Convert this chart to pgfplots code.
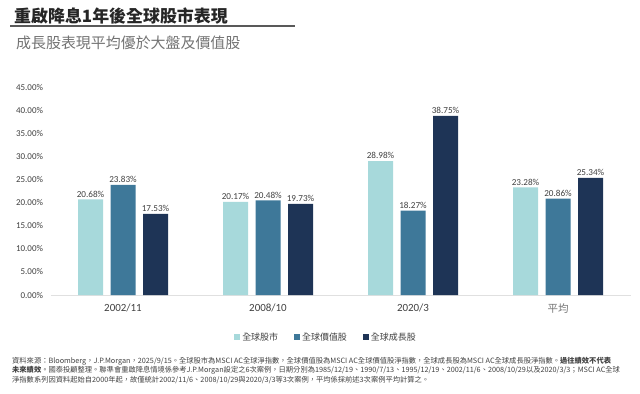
\documentclass[border=0pt]{standalone}
\usepackage{fontspec}
\usepackage{pgfplots}
\pgfplotsset{compat=1.18}
\setmainfont{Carlito}
\newfontfamily\cjk{Noto Sans CJK TC}
\definecolor{cA}{HTML}{A7D9DB}
\definecolor{cB}{HTML}{3E7899}
\definecolor{cC}{HTML}{1E3456}
\definecolor{txt}{HTML}{404040}
\pgfplotsset{
  sqlegend/.style={legend image code/.code={\fill[##1] (0bp,-3bp) rectangle (6bp,3bp);}}
}
\begin{document}
\begin{tikzpicture}[x=1bp,y=1bp]
\useasboundingbox (0,0) rectangle (640,393);
\node[anchor=west,font=\cjk\bfseries\fontsize{17}{19}\selectfont,text=black!85,inner sep=0] at (14,377) {重啟降息1年後全球股市表現};
\draw[black!65,line width=1.6bp] (10,367) -- (295,367);
\node[anchor=west,font=\cjk\fontsize{15}{17}\selectfont,text=black!55,inner sep=0] at (16,350) {成長股表現平均優於大盤及價值股};
\begin{axis}[
  at={(50.5bp,98bp)}, anchor=south west, scale only axis,
  width=580bp, height=208bp,
  xmin=-0.5, xmax=3.5, ymin=0, ymax=45,
  ybar, bar width=25bp,
  xtick={0,1,2,3},
  xticklabels={2002/11,2008/10,2020/3,{\cjk\fontsize{10.5}{12}\selectfont\color{black!55}\raisebox{-2bp}{平均}}},
  ytick={0,5,10,15,20,25,30,35,40,45},
  yticklabels={0.00\%,5.00\%,10.00\%,15.00\%,20.00\%,25.00\%,30.00\%,35.00\%,40.00\%,45.00\%},
  major tick length=0pt,
  axis x line*=bottom, axis y line*=left,
  x axis line style={-,draw=black!12,line width=1bp},
  y axis line style={draw=none},
  yticklabel style={font=\fontsize{9}{10}\selectfont,text=txt,xshift=-4bp},
  xticklabel style={font=\fontsize{11}{12}\selectfont,text=txt,yshift=-5bp},
  nodes near coords, point meta=explicit symbolic,
  every node near coord/.append style={font=\fontsize{9.2}{10}\selectfont,text=txt,inner sep=2bp},
  sqlegend,
  legend columns=3,
  legend style={at={(0.475,-0.202)},anchor=center,draw=none,fill=none,
    font=\cjk\fontsize{9}{10}\selectfont,text=txt,
    /tikz/every even column/.append style={column sep=14bp}},
]
\addplot[fill=cA,draw=none,bar shift=-32.5bp] coordinates {(0,20.68)[20.68\%] (1,20.17)[20.17\%] (2,28.98)[28.98\%] (3,23.28)[23.28\%]};
\addplot[fill=cB,draw=none,bar shift=0bp] coordinates {(0,23.83)[23.83\%] (1,20.48)[20.48\%] (2,18.27)[18.27\%] (3,20.86)[20.86\%]};
\addplot[fill=cC,draw=none,bar shift=32.5bp] coordinates {(0,17.53)[17.53\%] (1,19.73)[19.73\%] (2,38.75)[38.75\%] (3,25.34)[25.34\%]};
\legend{全球股市,全球價值股,全球成長股}
\end{axis}
\begin{scope}[every node/.style={anchor=west,inner sep=0,font=\cjk\fontsize{7.3}{8}\selectfont,text=txt}]
\node at (12,32) {資料來源：Bloomberg，J.P.Morgan，2025/9/15。全球股市為MSCI AC全球淨指數，全球價值股為MSCI AC全球價值股淨指數，全球成長股為MSCI AC全球成長股淨指數。{\bfseries 過往績效不代表}};
\node at (12,22.5) {{\bfseries 未來績效}。國泰投顧整理。聯準會重啟降息情境係參考J.P.Morgan設定之6次案例，日期分別為1985/12/19、1990/7/13、1995/12/19、2002/11/6、2008/10/29以及2020/3/3；MSCI AC全球};
\node at (12,13) {淨指數系列因資料起始自2000年起，故僅統計2002/11/6、2008/10/29與2020/3/3等3次案例，平均係採前述3次案例平均計算之。};
\end{scope}
\end{tikzpicture}
\end{document}
